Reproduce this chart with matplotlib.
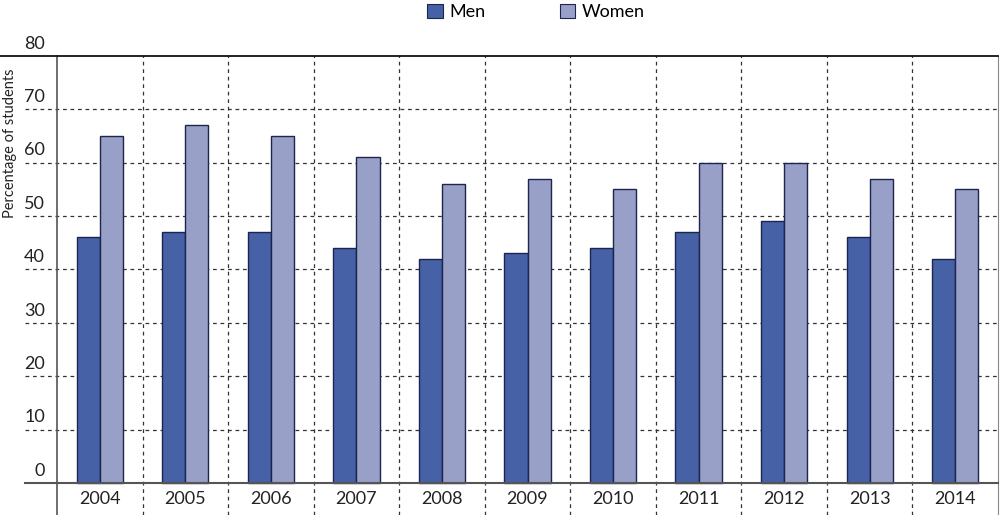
import matplotlib.pyplot as plt
from matplotlib.patches import Patch
import numpy as np

plt.rcParams['font.family'] = ['Lato', 'DejaVu Sans']

years = ['2004', '2005', '2006', '2007', '2008', '2009',
         '2010', '2011', '2012', '2013', '2014']
men = [46, 47, 47, 44, 42, 43, 44, 47, 49, 46, 42]
women = [65, 67, 65, 61, 56, 57, 55, 60, 60, 57, 55]
yticks = [0, 10, 20, 30, 40, 50, 60, 70, 80]

c_men = '#4661a5'
c_women = '#98a0c8'
c_edge = '#1b2550'

fig = plt.figure(figsize=(10, 5.15), dpi=100, facecolor='white')
ax = fig.add_axes([0.057, 0.0, 0.941, 459 / 515])

x = np.arange(len(years))
w = 0.27
ax.bar(x - w / 2, men, w, color=c_men, edgecolor=c_edge, linewidth=1.0, zorder=3)
ax.bar(x + w / 2, women, w, color=c_women, edgecolor=c_edge, linewidth=1.0, zorder=3)

ax.set_xlim(-0.5, len(years) - 0.5)
ax.set_ylim(-6, 80)

# horizontal dashed grid, running out to the left under the tick labels
for v in yticks[1:-1]:
    ax.axhline(v, xmin=-0.034, xmax=1, color='#333333', lw=0.9,
               ls=(0, (3, 3)), clip_on=False, zorder=1)
for v in yticks:
    ax.text(-0.0128, v + 0.8, str(v), transform=ax.get_yaxis_transform(),
            ha='right', va='bottom', fontsize=13, color='#222222', clip_on=False)

# zero line and top line
ax.axhline(0, xmin=-0.034, xmax=1, color='#555555', lw=1.5, clip_on=False, zorder=4)
ax.axhline(80, xmin=-0.061, xmax=1, color='#111111', lw=1.3, clip_on=False, zorder=4)

# vertical dashed separators
for i in range(len(years) - 1):
    ax.axvline(i + 0.5, color='#333333', lw=0.9, ls=(0, (3, 3)), zorder=1)

for i, yr in enumerate(years):
    ax.text(i, -3, yr, ha='center', va='center', fontsize=13, color='#222222')

for s in ['top', 'bottom']:
    ax.spines[s].set_visible(False)
ax.spines['left'].set_color('#555555')
ax.spines['left'].set_linewidth(1.2)
ax.spines['right'].set_color('#888888')
ax.spines['right'].set_linewidth(0.8)
ax.set_xticks([])
ax.set_yticks([])

fig.text(0.003, 0.722, 'Percentage of students', rotation=90,
         ha='left', va='center', fontsize=10.5, color='#222222')

handles = [Patch(facecolor=c_men, edgecolor=c_edge, lw=0.8),
           Patch(facecolor=c_women, edgecolor=c_edge, lw=0.8)]
fig.legend(handles, ['Men', 'Women'], loc='center', bbox_to_anchor=(0.536, 0.977),
           ncol=2, frameon=False, fontsize=13, handlelength=0.85, handleheight=0.85,
           handletextpad=0.35, columnspacing=4.15)

fig.savefig('out.png', dpi=100, facecolor='white')
